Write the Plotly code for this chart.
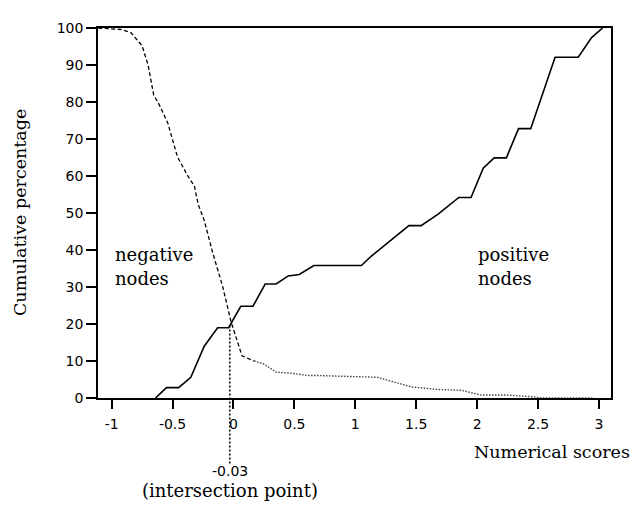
import plotly.graph_objects as go

# ---- data ----
POS_SCORES = [-0.64, -0.55, -0.45, -0.35, -0.24, -0.13, -0.04, 0.06, 0.16, 0.26, 0.35, 0.45,
              0.54, 0.66, 1.05, 1.13, 1.44, 1.54, 1.68, 1.85, 1.95, 2.05, 2.14, 2.24, 2.34,
              2.44, 2.64, 2.83, 2.94, 3.03]
POS_PCT = [0, 2.8, 2.8, 5.6, 14, 19, 19, 24.8, 24.8, 30.8, 30.8, 33, 33.4, 35.8, 35.8, 38.3,
           46.6, 46.6, 49.7, 54.2, 54.2, 62.1, 64.9, 64.9, 72.8, 72.8, 92.1, 92.1, 97.4, 100]

NEG_SCORES = [-1.11, -0.92, -0.84, -0.75, -0.70, -0.655, -0.61, -0.54, -0.46, -0.38, -0.32,
              -0.29, -0.24, -0.17, -0.09, -0.02, 0.07, 0.17, 0.25, 0.35, 0.47, 0.61, 0.66,
              1.18, 1.32, 1.46, 1.68, 1.87, 2.03, 2.25, 2.47, 2.51, 2.95]
NEG_PCT = [100, 99.6, 98.7, 95.2, 89.9, 81.9, 79.3, 74.4, 65.2, 60.3, 57.2, 52.4, 48, 39.2,
           30.3, 20.6, 11.4, 10, 9.2, 7, 6.7, 6.1, 6.1, 5.6, 4.3, 3.0, 2.3, 2.1, 0.8, 0.8,
           0.3, 0, 0]
NEG_SPLIT = 17  # where the dashed line becomes a fine dotted line

X_TICKS = [-1, -0.5, 0, 0.5, 1, 1.5, 2, 2.5, 3]
X_TICK_LABELS = ["-1", "-0.5", "0", "0.5", "1", "1.5", "2", "2.5", "3"]
Y_TICKS = [0, 10, 20, 30, 40, 50, 60, 70, 80, 90, 100]

INTERSECTION_X = -0.03
INTERSECTION_PCT = 20
INTERSECTION_LABEL = "-0.03"

SERIF = "DejaVu Serif"
SANS = "DejaVu Sans"

fig = go.Figure()

fig.add_trace(go.Scatter(x=POS_SCORES, y=POS_PCT, mode="lines",
                         line=dict(color="black", width=1.6), hoverinfo="skip",
                         showlegend=False))
fig.add_trace(go.Scatter(x=NEG_SCORES[:NEG_SPLIT + 1], y=NEG_PCT[:NEG_SPLIT + 1], mode="lines",
                         line=dict(color="black", width=1.3, dash="4px,2.5px"),
                         hoverinfo="skip", showlegend=False))
fig.add_trace(go.Scatter(x=NEG_SCORES[NEG_SPLIT:], y=NEG_PCT[NEG_SPLIT:], mode="lines",
                         line=dict(color="#444444", width=1.4, dash="1.5px,1.5px"),
                         hoverinfo="skip", showlegend=False))

# vertical dotted line at the intersection point, extending below the axis
fig.add_shape(type="line", xref="x", yref="paper",
              x0=INTERSECTION_X, x1=INTERSECTION_X,
              y0=-0.177, y1=INTERSECTION_PCT / 100,
              line=dict(color="black", width=1.5, dash="2px,2px"))

ann_font = dict(family=SERIF, size=18, color="black")
fig.add_annotation(x=-0.985, y=38.9, xref="x", yref="y", text="negative",
                   showarrow=False, xanchor="left", yanchor="middle", font=ann_font)
fig.add_annotation(x=-0.985, y=32.2, xref="x", yref="y", text="nodes",
                   showarrow=False, xanchor="left", yanchor="middle", font=ann_font)
fig.add_annotation(x=1.99, y=38.9, xref="x", yref="y", text="positive",
                   showarrow=False, xanchor="left", yanchor="middle", font=ann_font)
fig.add_annotation(x=1.99, y=32.2, xref="x", yref="y", text="nodes",
                   showarrow=False, xanchor="left", yanchor="middle", font=ann_font)

fig.add_annotation(x=INTERSECTION_X, y=-0.198, xref="x", yref="paper", text=INTERSECTION_LABEL,
                   showarrow=False, xanchor="center", yanchor="middle",
                   font=dict(family=SANS, size=14, color="black"))
fig.add_annotation(x=INTERSECTION_X, y=-0.249, xref="x", yref="paper",
                   text="(intersection point)", showarrow=False, xanchor="center",
                   yanchor="middle", font=ann_font)

fig.add_annotation(x=0.885, y=-0.1455, xref="paper", yref="paper", text="Numerical scores",
                   showarrow=False, xanchor="center", yanchor="middle",
                   font=dict(family=SERIF, size=17.5, color="black"))
fig.add_annotation(x=-0.152, y=0.5, xref="paper", yref="paper", text="Cumulative percentage",
                   showarrow=False, textangle=-90, xanchor="center", yanchor="middle",
                   font=dict(family=SERIF, size=17.5, color="black"))

axis_common = dict(showgrid=False, zeroline=False, showline=True, linecolor="black",
                   linewidth=1.5, mirror=True, ticks="outside", tickcolor="black",
                   tickwidth=1.5, tickfont=dict(family=SANS, size=14, color="black"))

fig.update_xaxes(range=[-1.112, 3.099], tickmode="array", tickvals=X_TICKS,
                 ticktext=X_TICK_LABELS, ticklen=9, ticklabelstandoff=3, **axis_common)
fig.update_yaxes(range=[0, 100], tickmode="array", tickvals=Y_TICKS, ticklen=10,
                 **axis_common)

# the page body adds an 8px margin, so the figure is sized/offset to compensate
fig.update_layout(width=634, height=501, margin=dict(l=90, r=31, t=12, b=111),
                  paper_bgcolor="white", plot_bgcolor="white", showlegend=False)

fig.write_html("out.html")
